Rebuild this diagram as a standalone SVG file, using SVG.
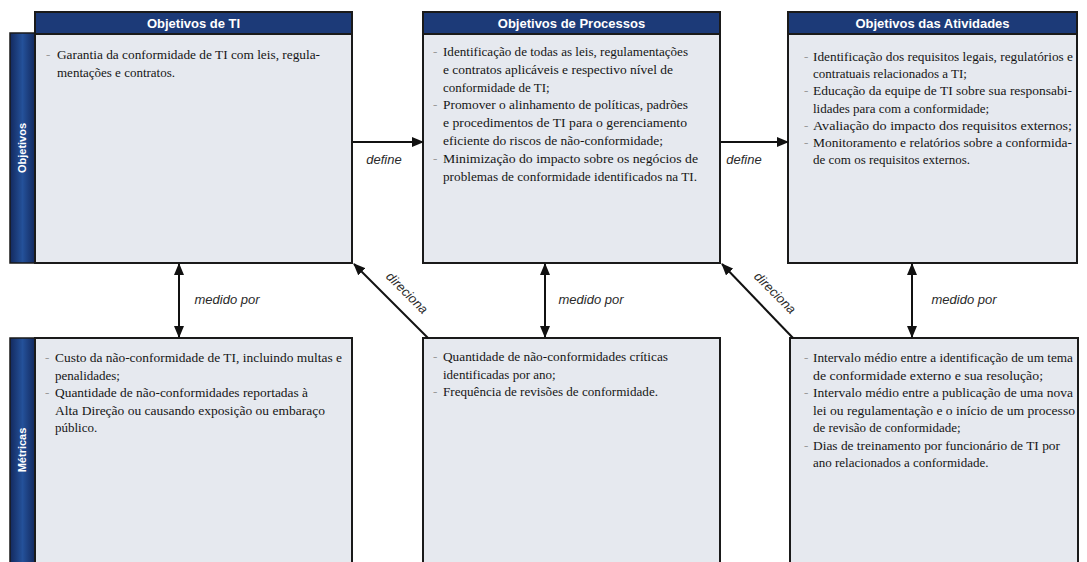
<svg xmlns="http://www.w3.org/2000/svg" width="1087" height="562" viewBox="0 0 1087 562">
<style>
.box{fill:#e6e9ef;stroke:#1a1a1a;stroke-width:2}
.hdr{fill:#1c3a78;stroke:#1a1a1a;stroke-width:2}
.side{fill:url(#sideGrad);stroke:#1a1a1a;stroke-width:1.5}
.ht{font-family:"Liberation Sans",Arial,sans-serif;font-weight:bold;font-size:13px;fill:#ffffff;text-anchor:middle}
.st{font-family:"Liberation Sans",Arial,sans-serif;font-weight:bold;font-size:11px;fill:#ffffff;text-anchor:middle}
.t{font-family:"Liberation Serif","Times New Roman",serif;font-size:13px;fill:#151515}
.b{font-family:"Liberation Serif","Times New Roman",serif;font-size:13px;fill:#9a9a9a}
.lbl{font-family:"Liberation Sans",Arial,sans-serif;font-style:italic;font-size:13px;fill:#2a2a2a;text-anchor:middle}
.c{stroke:#111111;stroke-width:2;fill:none}
</style>
<defs>
<linearGradient id="sideGrad" x1="0" y1="0" x2="1" y2="0">
<stop offset="0" stop-color="#13295e"/>
<stop offset="0.5" stop-color="#24519a"/>
<stop offset="1" stop-color="#13295e"/>
</linearGradient>
<marker id="ah" viewBox="0 0 12 10" refX="11" refY="5" markerWidth="12" markerHeight="10" markerUnits="userSpaceOnUse" orient="auto-start-reverse">
<path d="M0,0 L12,5 L0,10 z" fill="#111111"/>
</marker>
</defs>
<rect width="1087" height="562" fill="#ffffff"/>

<g id="side-objetivos">
<rect class="side" x="10" y="33" width="25" height="230"/>
<text class="st" transform="translate(26,148) rotate(-90)">Objetivos</text>
</g>
<g id="side-metricas">
<rect class="side" x="10" y="338" width="25" height="240"/>
<text class="st" transform="translate(26,450) rotate(-90)">Métricas</text>
</g>

<g id="obj-ti">
<rect class="box" x="35" y="12" width="317" height="251"/>
<rect class="hdr" x="35" y="12" width="317" height="22"/>
<text class="ht" x="193.5" y="27.5">Objetivos de TI</text>
<text class="b" x="46" y="59">-</text>
<text class="t" x="57" y="59" textLength="263" lengthAdjust="spacingAndGlyphs">Garantia da conformidade de TI com leis, regula-</text>
<text class="t" x="57" y="77">mentações e contratos.</text>
</g>

<g id="obj-processos">
<rect class="box" x="423" y="12" width="297" height="251"/>
<rect class="hdr" x="423" y="12" width="297" height="22"/>
<text class="ht" x="571.5" y="27.5">Objetivos de Processos</text>
<text class="b" x="433" y="56">-</text>
<text class="t" x="443" y="56" textLength="245" lengthAdjust="spacingAndGlyphs">Identificação de todas as leis, regulamentações</text>
<text class="t" x="443" y="73.8" textLength="230" lengthAdjust="spacingAndGlyphs">e contratos aplicáveis e respectivo nível de</text>
<text class="t" x="443" y="91.6">conformidade de TI;</text>
<text class="b" x="433" y="109.4">-</text>
<text class="t" x="443" y="109.4" textLength="245" lengthAdjust="spacingAndGlyphs">Promover o alinhamento de políticas, padrões</text>
<text class="t" x="443" y="127.2" textLength="244" lengthAdjust="spacingAndGlyphs">e procedimentos de TI para o gerenciamento</text>
<text class="t" x="443" y="145" textLength="220" lengthAdjust="spacingAndGlyphs">eficiente do riscos de não-conformidade;</text>
<text class="b" x="433" y="162.8">-</text>
<text class="t" x="443" y="162.8" textLength="255" lengthAdjust="spacingAndGlyphs">Minimização do impacto sobre os negócios de</text>
<text class="t" x="443" y="180.6" textLength="254" lengthAdjust="spacingAndGlyphs">problemas de conformidade identificados na TI.</text>
</g>

<g id="obj-atividades">
<rect class="box" x="788" y="12" width="289" height="251"/>
<rect class="hdr" x="788" y="12" width="289" height="22"/>
<text class="ht" x="932.5" y="27.5">Objetivos das Atividades</text>
<text class="b" x="804" y="61">-</text>
<text class="t" x="813" y="61" textLength="260" lengthAdjust="spacingAndGlyphs">Identificação dos requisitos legais, regulatórios e</text>
<text class="t" x="813" y="78.2">contratuais relacionados a TI;</text>
<text class="b" x="804" y="95.3">-</text>
<text class="t" x="813" y="95.3" textLength="259" lengthAdjust="spacingAndGlyphs">Educação da equipe de TI sobre sua responsabi-</text>
<text class="t" x="813" y="112.5">lidades para com a conformidade;</text>
<text class="b" x="804" y="129.7">-</text>
<text class="t" x="813" y="129.7" textLength="259" lengthAdjust="spacingAndGlyphs">Avaliação do impacto dos requisitos externos;</text>
<text class="b" x="804" y="146.8">-</text>
<text class="t" x="813" y="146.8" textLength="259" lengthAdjust="spacingAndGlyphs">Monitoramento e relatórios sobre a conformida-</text>
<text class="t" x="813" y="164">de com os requisitos externos.</text>
</g>

<g id="met-ti">
<rect class="box" x="35" y="338" width="317" height="240"/>
<text class="b" x="45" y="362">-</text>
<text class="t" x="55" y="362" textLength="287" lengthAdjust="spacingAndGlyphs">Custo da não-conformidade de TI, incluindo multas e</text>
<text class="t" x="55" y="379.5">penalidades;</text>
<text class="b" x="45" y="397">-</text>
<text class="t" x="55" y="397" textLength="253" lengthAdjust="spacingAndGlyphs">Quantidade de não-conformidades reportadas à</text>
<text class="t" x="55" y="414.5" textLength="270" lengthAdjust="spacingAndGlyphs">Alta Direção ou causando exposição ou embaraço</text>
<text class="t" x="55" y="432">público.</text>
</g>

<g id="met-processos">
<rect class="box" x="423" y="338" width="297" height="240"/>
<text class="b" x="433" y="361">-</text>
<text class="t" x="443" y="361" textLength="225" lengthAdjust="spacingAndGlyphs">Quantidade de não-conformidades críticas</text>
<text class="t" x="443" y="378.5">identificadas por ano;</text>
<text class="b" x="433" y="396">-</text>
<text class="t" x="443" y="396" textLength="215" lengthAdjust="spacingAndGlyphs">Frequência de revisões de conformidade.</text>
</g>

<g id="met-atividades">
<rect class="box" x="790" y="338" width="288" height="240"/>
<text class="b" x="804" y="362">-</text>
<text class="t" x="813" y="362" textLength="260" lengthAdjust="spacingAndGlyphs">Intervalo médio entre a identificação de um tema</text>
<text class="t" x="813" y="379.5" textLength="230" lengthAdjust="spacingAndGlyphs">de conformidade externo e sua resolução;</text>
<text class="b" x="804" y="397">-</text>
<text class="t" x="813" y="397" textLength="260" lengthAdjust="spacingAndGlyphs">Intervalo médio entre a publicação de uma nova</text>
<text class="t" x="813" y="414.5" textLength="262" lengthAdjust="spacingAndGlyphs">lei ou regulamentação e o início de um processo</text>
<text class="t" x="813" y="432">de revisão de conformidade;</text>
<text class="b" x="804" y="449.5">-</text>
<text class="t" x="813" y="449.5" textLength="247" lengthAdjust="spacingAndGlyphs">Dias de treinamento por funcionário de TI por</text>
<text class="t" x="813" y="467">ano relacionados a conformidade.</text>
</g>

<g id="connectors">
<line class="c" x1="353" y1="142" x2="423" y2="142" marker-end="url(#ah)"/>
<text class="lbl" x="384" y="164">define</text>
<line class="c" x1="721" y1="142" x2="788" y2="142" marker-end="url(#ah)"/>
<text class="lbl" x="744" y="164">define</text>
<line class="c" x1="179" y1="264" x2="179" y2="337" marker-start="url(#ah)" marker-end="url(#ah)"/>
<text class="lbl" x="227" y="304">medido por</text>
<line class="c" x1="545" y1="264" x2="545" y2="337" marker-start="url(#ah)" marker-end="url(#ah)"/>
<text class="lbl" x="591" y="304">medido por</text>
<line class="c" x1="912" y1="264" x2="912" y2="337" marker-start="url(#ah)" marker-end="url(#ah)"/>
<text class="lbl" x="964" y="304">medido por</text>
<line class="c" x1="428" y1="338" x2="354" y2="264" marker-end="url(#ah)"/>
<text class="lbl" transform="translate(404,296) rotate(45)">direciona</text>
<line class="c" x1="793" y1="338" x2="722" y2="264" marker-end="url(#ah)"/>
<text class="lbl" transform="translate(772,296) rotate(45)">direciona</text>
</g>
</svg>
